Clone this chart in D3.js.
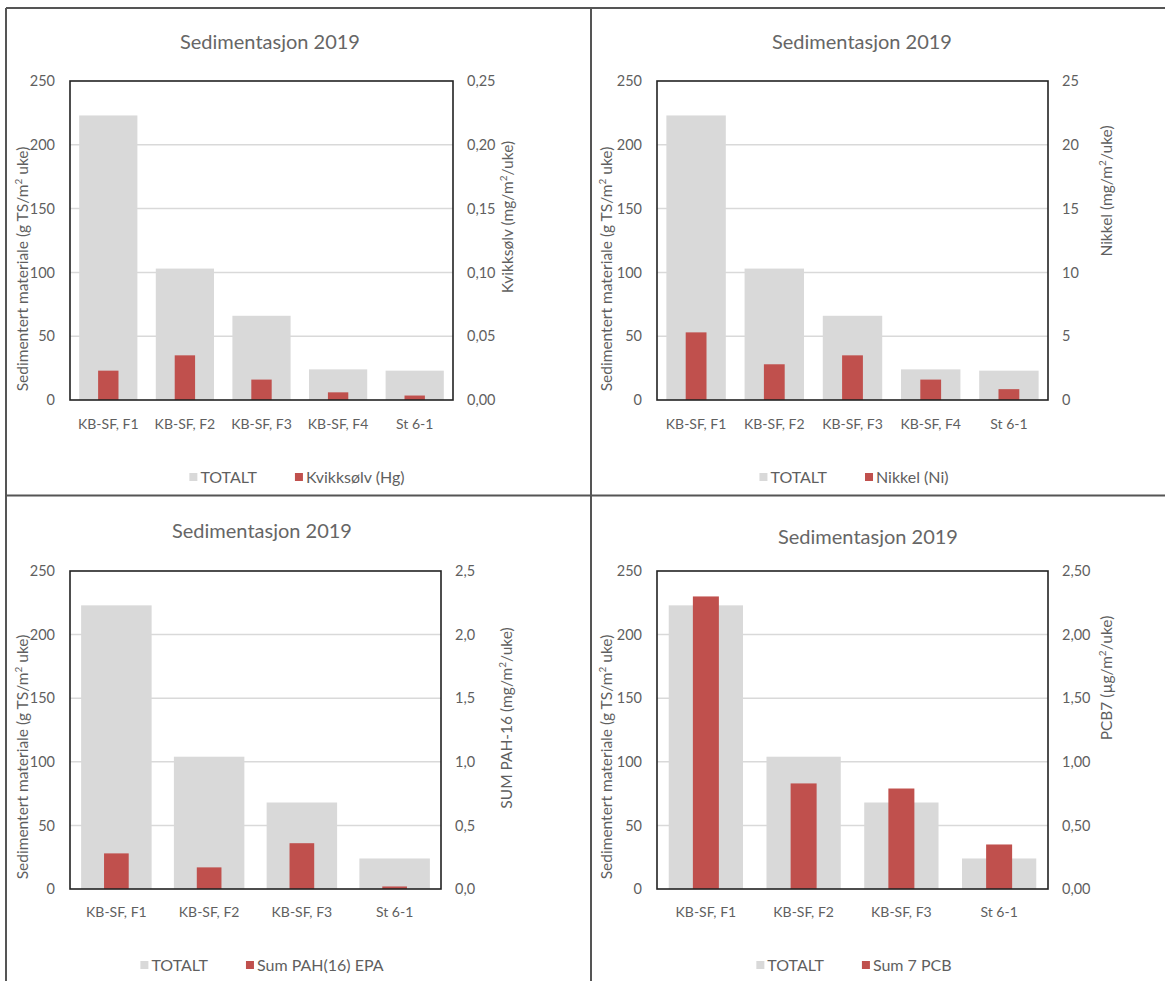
<!DOCTYPE html>
<html>
<head>
<meta charset="utf-8">
<script src="https://cdn.jsdelivr.net/npm/d3@7/dist/d3.min.js"></script>
<style>
  body { margin: 0; background: #fff; }
  svg { display: block; font-family: Lato, "Open Sans", sans-serif; }
</style>
</head>
<body>
<div id="chart"></div>
<script>
// DATA
var stations5 = ['KB-SF, F1', 'KB-SF, F2', 'KB-SF, F3', 'KB-SF, F4', 'St 6-1']
var stations4 = ['KB-SF, F1', 'KB-SF, F2', 'KB-SF, F3', 'St 6-1']

var totalt5 = [223, 103, 66, 24, 23]
var totalt4 = [223, 104, 68, 24]

var hg = [0.023, 0.035, 0.016, 0.006, 0.0035]
var ni = [5.3, 2.8, 3.5, 1.6, 0.85]
var pah = [0.28, 0.17, 0.36, 0.02]
var pcb = [2.30, 0.83, 0.79, 0.35]

var leftTicks = [0, 50, 100, 150, 200, 250]
var hgTicks = [0, 0.05, 0.10, 0.15, 0.20, 0.25]
var niTicks = [0, 5, 10, 15, 20, 25]
var pahTicks = [0, 0.5, 1.0, 1.5, 2.0, 2.5]
var pcbTicks = [0, 0.5, 1.0, 1.5, 2.0, 2.5]

var title = 'Sedimentasjon 2019'
var leftLabel = ['Sedimentert materiale (g TS/m', '2', ' uke)']

var W = 1165, H = 981
var grey = '#d9d9d9', red = '#c0504d', txt = '#5f5f5f'

var no = d3.formatLocale({decimal: ',', thousands: ' ', grouping: [3], currency: ['', ' kr']})

var panels = [
  {cats: stations5, tot: totalt5, val: hg, ticks: hgTicks, max: 0.25, fmt: no.format('.2f'),
   right: ['Kvikksølv (mg/m', '2', '/uke)'], legend: 'Kvikksølv (Hg)',
   box: {l: 70, r: 453, t: 81, b: 400}, titleX: 270, titleY: 42, catY: 424, legY: 477, legX: 297,
   leftLabX: 23, leftLabY: 269, rightLabX: 508, rightLabY: 217},
  {cats: stations5, tot: totalt5, val: ni, ticks: niTicks, max: 25, fmt: no.format('d'),
   right: ['Nikkel (mg/m', '2', '/uke)'], legend: 'Nikkel (Ni)',
   box: {l: 657, r: 1048, t: 81, b: 400}, titleX: 862, titleY: 42, catY: 424, legY: 477, legX: 854,
   leftLabX: 607, leftLabY: 269, rightLabX: 1107, rightLabY: 191},
  {cats: stations4, tot: totalt4, val: pah, ticks: pahTicks, max: 2.5, fmt: no.format('.1f'),
   right: ['SUM PAH-16 (mg/m', '2', '/uke)'], legend: 'Sum PAH(16) EPA',
   box: {l: 70, r: 441, t: 571, b: 889}, titleX: 262, titleY: 531, catY: 912, legY: 965, legX: 262,
   leftLabX: 23, leftLabY: 757, rightLabX: 507, rightLabY: 718},
  {cats: stations4, tot: totalt4, val: pcb, ticks: pcbTicks, max: 2.5, fmt: no.format('.2f'),
   right: ['PCB7 (µg/m', '2', '/uke)'], legend: 'Sum 7 PCB',
   box: {l: 657, r: 1048, t: 571, b: 889}, titleX: 868, titleY: 537, catY: 912, legY: 965, legX: 854,
   leftLabX: 607, leftLabY: 757, rightLabX: 1107, rightLabY: 678}
]

var svg = d3.select('#chart').append('svg')
  .attr('width', W)
  .attr('height', H)

panels.forEach(drawPanel)

// outer frames
var frame = svg.append('g').attr('stroke', '#555').attr('stroke-width', 2)
frame.append('line').attr('x1', 6).attr('x2', 6).attr('y1', 8).attr('y2', H)
frame.append('line').attr('x1', 6).attr('x2', W).attr('y1', 8).attr('y2', 8)
frame.append('line').attr('x1', 591).attr('x2', 591).attr('y1', 8).attr('y2', H)
frame.append('line').attr('x1', 6).attr('x2', W).attr('y1', 495.5).attr('y2', 495.5)

function drawPanel(p) {
  var b = p.box
  var g = svg.append('g')

  var x = d3.scaleBand().domain(p.cats).range([b.l, b.r]).paddingInner(0.24).paddingOuter(0.12)
  var yL = d3.scaleLinear().domain([0, 250]).range([b.b, b.t])
  var yR = d3.scaleLinear().domain([0, p.max]).range([b.b, b.t])

  // gridlines
  g.append('g')
    .selectAll('line')
    .data(leftTicks.slice(1, -1))
    .enter().append('line')
      .attr('x1', b.l).attr('x2', b.r)
      .attr('y1', d => yL(d)).attr('y2', d => yL(d))
      .attr('stroke', grey)
      .attr('stroke-width', 1.5)

  // TOTALT bars
  g.append('g')
    .selectAll('rect')
    .data(p.cats)
    .enter().append('rect')
      .attr('x', d => x(d))
      .attr('width', x.bandwidth())
      .attr('y', (d, i) => yL(p.tot[i]))
      .attr('height', (d, i) => yL(0) - yL(p.tot[i]))
      .attr('fill', grey)

  // secondary series bars
  var rw = x.bandwidth() * 0.35
  g.append('g')
    .selectAll('rect')
    .data(p.cats)
    .enter().append('rect')
      .attr('x', d => x(d) + (x.bandwidth() - rw) / 2)
      .attr('width', rw)
      .attr('y', (d, i) => yR(p.val[i]))
      .attr('height', (d, i) => yR(0) - yR(p.val[i]))
      .attr('fill', red)

  // plot frame
  g.append('rect')
    .attr('x', b.l).attr('y', b.t)
    .attr('width', b.r - b.l).attr('height', b.b - b.t)
    .attr('fill', 'none')
    .attr('stroke', '#222')
    .attr('stroke-width', 1.6)

  // AXES
  var axL = g.append('g').attr('transform', 'translate(' + b.l + ',0)')
    .call(d3.axisLeft(yL).tickValues(leftTicks).tickSize(0).tickPadding(15))
  var axR = g.append('g').attr('transform', 'translate(' + b.r + ',0)')
    .call(d3.axisRight(yR).tickValues(p.ticks).tickFormat(p.fmt).tickSize(0).tickPadding(14))
  var axX = g.append('g').attr('transform', 'translate(0,' + b.b + ')')
    .call(d3.axisBottom(x).tickSize(0).tickPadding(0))

  ;[axL, axR, axX].forEach(function(a) {
    a.select('.domain').remove()
    a.selectAll('text')
      .attr('fill', txt)
      .style('font-family', 'Lato, sans-serif')
      .style('font-size', '14.5px')
  })
  axX.selectAll('text').attr('y', p.catY - b.b).attr('dy', '0.35em').style('font-size', '14px')

  // title
  g.append('text')
    .attr('x', p.titleX).attr('y', p.titleY)
    .attr('dy', '0.35em')
    .attr('text-anchor', 'middle')
    .attr('fill', '#666')
    .style('font-size', '20px')
    .text(title)

  axisTitle(g, leftLabel, p.leftLabX, p.leftLabY)
  axisTitle(g, p.right, p.rightLabX, p.rightLabY)

  // legend
  var leg = g.append('g')
  var items = [{c: grey, t: 'TOTALT'}, {c: red, t: p.legend}]
  var cx = 0
  items.forEach(function(it, i) {
    leg.append('rect').attr('x', cx).attr('y', -4).attr('width', 8).attr('height', 8).attr('fill', it.c)
    var t = leg.append('text')
      .attr('x', cx + 11).attr('y', 0).attr('dy', '0.35em')
      .attr('fill', txt)
      .style('font-size', '16px')
      .text(it.t)
    cx += 11 + t.node().getComputedTextLength() + 38
  })
  var legW = cx - 38
  leg.attr('transform', 'translate(' + (p.legX - legW / 2) + ',' + p.legY + ')')
}

function axisTitle(g, parts, x, y) {
  var t = g.append('text')
    .attr('transform', 'translate(' + x + ',' + y + ') rotate(-90)')
    .attr('text-anchor', 'middle')
    .attr('dy', '0.35em')
    .attr('fill', txt)
    .style('font-size', '15.5px')
  t.append('tspan').text(parts[0])
  t.append('tspan').attr('baseline-shift', 'super').style('font-size', '10px').text(parts[1])
  t.append('tspan').text(parts[2])
}
</script>
</body>
</html>
